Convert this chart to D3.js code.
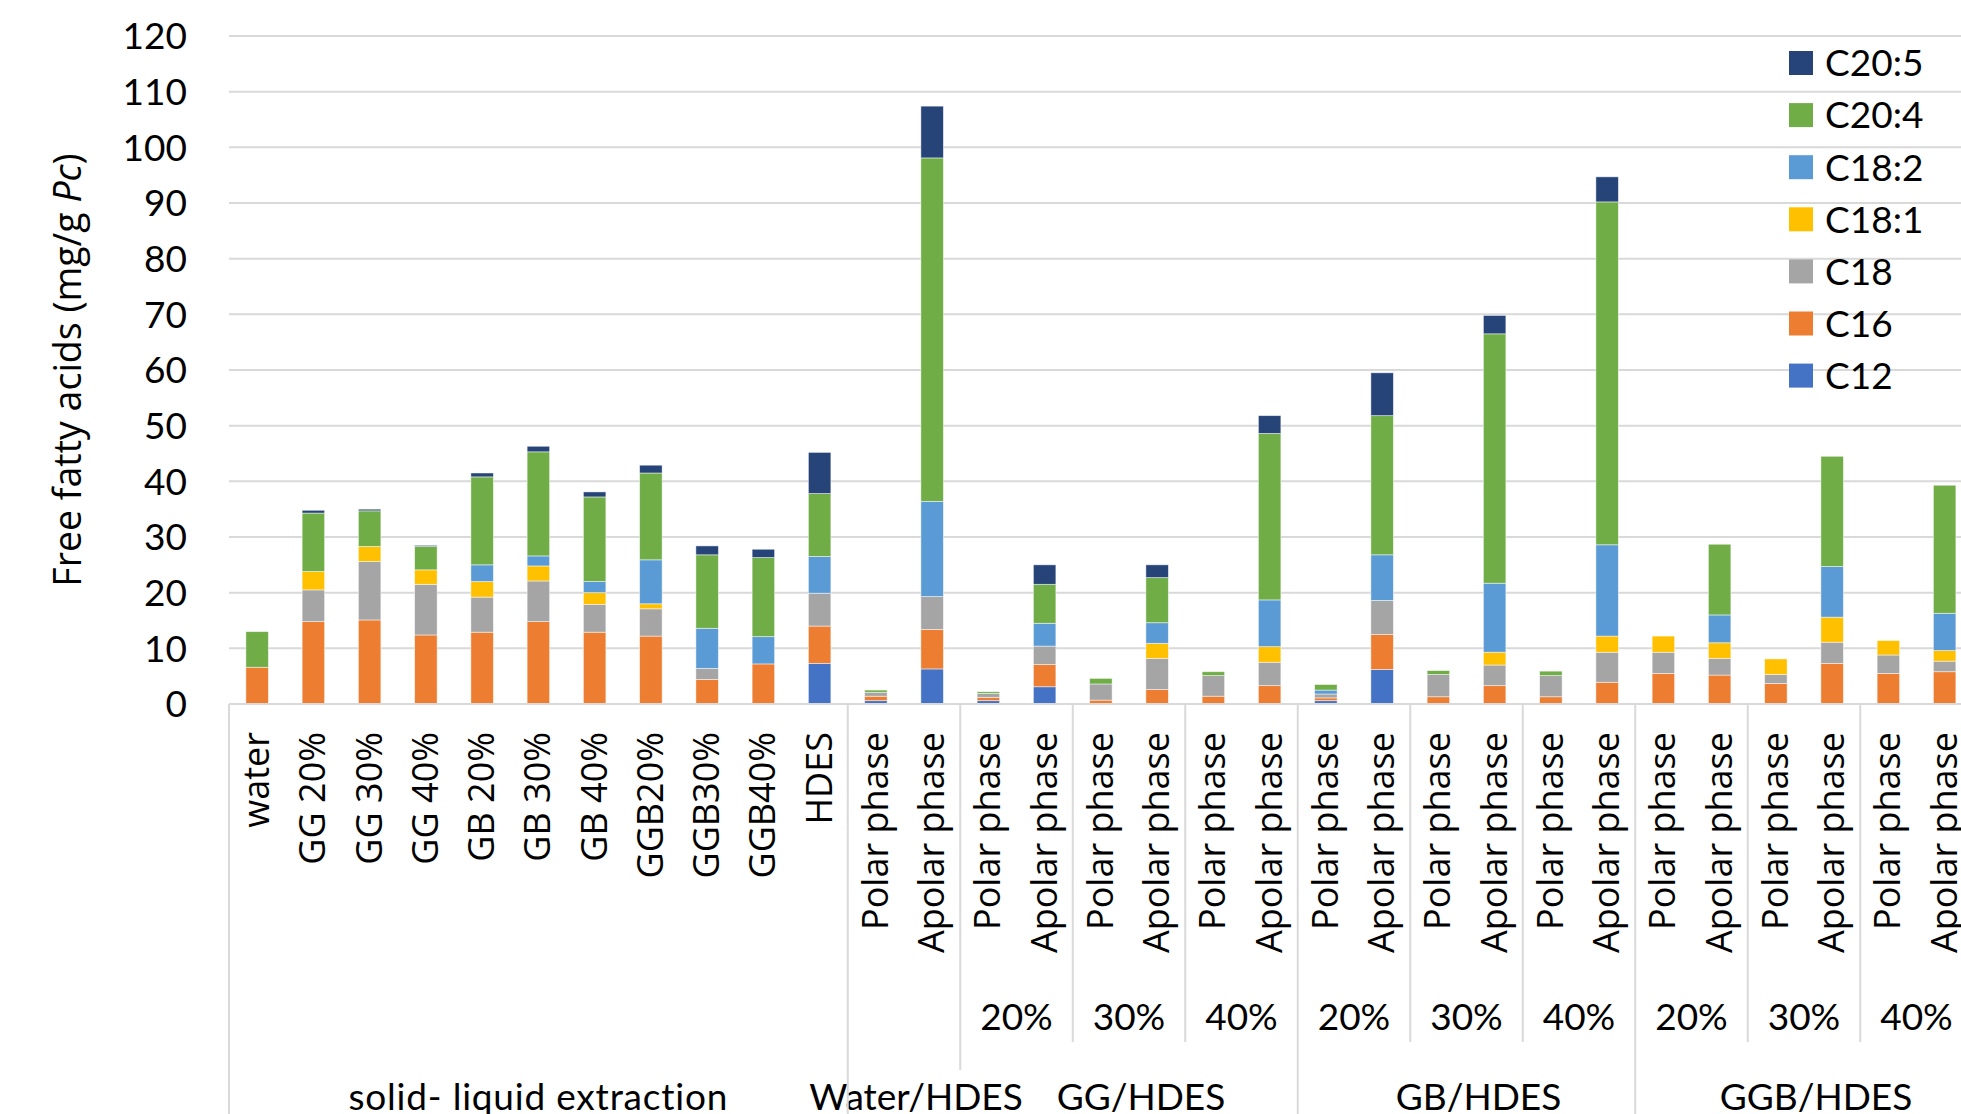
<!DOCTYPE html>
<html>
<head>
<meta charset="utf-8">
<script src="https://cdn.jsdelivr.net/npm/d3@7/dist/d3.min.js"></script>
<style>
  html, body { margin: 0; padding: 0; background: #fff; }
  svg { display: block; }
  .num-text { font-family: Lato, "Liberation Sans", sans-serif; font-size: 37px; fill: #000; }
  .cat-text { font-family: "Open Sans", "Noto Sans", "DejaVu Sans", sans-serif; font-size: 36px; fill: #000; }
  .axis-title { font-family: "Open Sans", "Noto Sans", "DejaVu Sans", sans-serif; font-size: 37.5px; fill: #000; }
</style>
</head>
<body>
<svg id="chart" width="1961" height="1114"></svg>
<script>
// Level 1 categories (bottom axis, rotated)
var categories = [
  "water", "GG 20%", "GG 30%", "GG 40%", "GB 20%", "GB 30%", "GB 40%",
  "GGB20%", "GGB30%", "GGB40%", "HDES",
  "Polar phase", "Apolar phase",
  "Polar phase", "Apolar phase", "Polar phase", "Apolar phase", "Polar phase", "Apolar phase",
  "Polar phase", "Apolar phase", "Polar phase", "Apolar phase", "Polar phase", "Apolar phase",
  "Polar phase", "Apolar phase", "Polar phase", "Apolar phase", "Polar phase", "Apolar phase"
];

// Level 2 (percent) labels, each covering two categories from index 13 on
var subLabels = ["20%", "30%", "40%", "20%", "30%", "40%", "20%", "30%", "40%"];
var subStart = 13;

// Level 3 groups and how many categories each holds
var groupLabels = ["solid- liquid extraction", "Water/HDES", "GG/HDES", "GB/HDES", "GGB/HDES"];
var groupSizes = [11, 2, 6, 6, 6];

// Series, stacked bottom to top (mg/g Pc)
var seriesNames = ["C12", "C16", "C18", "C18:1", "C18:2", "C20:4", "C20:5"];
var seriesColors = ["#4472C4", "#ED7D31", "#A5A5A5", "#FFC000", "#5B9BD5", "#70AD47", "#264478"];

var c12   = [0, 0, 0, 0, 0, 0, 0, 0, 0, 0, 7.3, 0.6, 6.3, 0.6, 3.1, 0, 0, 0, 0, 0.6, 6.2, 0, 0, 0, 0, 0, 0, 0, 0, 0, 0];
var c16   = [6.6, 14.8, 15.1, 12.4, 12.9, 14.8, 12.9, 12.2, 4.4, 7.2, 6.7, 0.8, 7.1, 0.6, 4.0, 0.7, 2.6, 1.4, 3.3, 0.5, 6.3, 1.3, 3.3, 1.3, 3.9, 5.5, 5.2, 3.7, 7.3, 5.5, 5.8];
var c18   = [0, 5.7, 10.5, 9.1, 6.3, 7.3, 5.0, 4.9, 2.0, 0, 5.9, 0.7, 5.9, 0.7, 3.3, 2.9, 5.6, 3.7, 4.2, 0.7, 6.1, 4.0, 3.7, 3.8, 5.4, 3.8, 3.0, 1.6, 3.8, 3.3, 1.9];
var c18_1 = [0, 3.3, 2.7, 2.6, 2.8, 2.7, 2.1, 0.9, 0, 0, 0, 0, 0, 0, 0, 0, 2.7, 0, 2.8, 0, 0, 0, 2.3, 0, 2.9, 2.9, 2.8, 2.8, 4.5, 2.6, 1.9];
var c18_2 = [0, 0, 0, 0, 3.0, 1.8, 2.0, 7.9, 7.2, 4.9, 6.6, 0, 17.1, 0, 4.1, 0, 3.7, 0, 8.4, 0.7, 8.2, 0, 12.4, 0, 16.4, 0, 5.0, 0, 9.1, 0, 6.7];
var c20_4 = [6.4, 10.5, 6.4, 4.2, 15.8, 18.7, 15.2, 15.6, 13.2, 14.2, 11.3, 0.4, 61.7, 0.3, 7.0, 1.0, 8.1, 0.7, 29.9, 1.0, 25.0, 0.7, 44.8, 0.8, 61.6, 0, 12.7, 0, 19.8, 0, 23.0];
var c20_5 = [0, 0.5, 0.3, 0.2, 0.7, 1.0, 0.9, 1.4, 1.6, 1.5, 7.4, 0, 9.3, 0, 3.5, 0, 2.3, 0, 3.2, 0, 7.7, 0, 3.3, 0, 4.5, 0, 0, 0, 0, 0, 0];

var yTicks = [0, 10, 20, 30, 40, 50, 60, 70, 80, 90, 100, 110, 120];

(function () {
  var width = 1961, height = 1114;
  var left = 229, top = 36, base = 704;
  var gridColor = "#d9d9d9";

  var svg = d3.select("#chart");

  // Build row objects for d3.stack
  var seriesValues = [c12, c16, c18, c18_1, c18_2, c20_4, c20_5];
  var rows = categories.map(function (c, i) {
    var r = { idx: i };
    seriesNames.forEach(function (s, k) { r[s] = seriesValues[k][i]; });
    return r;
  });
  var stacked = d3.stack().keys(seriesNames)(rows);

  // The plot runs past the right edge of the picture (cropped like the source)
  var step = 56.25;
  var x = d3.scaleBand()
    .domain(d3.range(categories.length))
    .range([left, left + step * categories.length])
    .paddingInner(0.6)
    .paddingOuter(0.3);

  var y = d3.scaleLinear().domain([0, 120]).range([base, top]);

  // Gridlines
  svg.append("g")
    .selectAll("line")
    .data(yTicks.filter(function (t) { return t > 0; }))
    .join("line")
    .attr("x1", left).attr("x2", width)
    .attr("y1", function (d) { return y(d); })
    .attr("y2", function (d) { return y(d); })
    .attr("stroke", gridColor)
    .attr("stroke-width", 2);

  // Y tick labels
  svg.append("g")
    .selectAll("text")
    .data(yTicks)
    .join("text")
    .attr("class", "num-text")
    .attr("x", 187)
    .attr("y", function (d) { return y(d); })
    .attr("dy", "0.36em")
    .attr("text-anchor", "end")
    .text(function (d) { return d; });

  // Y axis title
  var title = svg.append("text")
    .attr("class", "axis-title")
    .attr("transform", "translate(81," + 370 + ") rotate(-90)")
    .attr("text-anchor", "middle");
  title.append("tspan").text("Free fatty acids (mg/g ");
  title.append("tspan").attr("font-style", "italic").text("Pc");
  title.append("tspan").text(")");

  // Stacked bars
  svg.append("g")
    .selectAll("g")
    .data(stacked)
    .join("g")
    .attr("fill", function (d, k) { return seriesColors[k]; })
    .selectAll("rect")
    .data(function (d) { return d.filter(function (p) { return p[1] - p[0] > 0; }); })
    .join("rect")
    .attr("x", function (p) { return x(p.data.idx); })
    .attr("width", x.bandwidth())
    .attr("y", function (p) { return y(p[1]); })
    .attr("height", function (p) { return y(p[0]) - y(p[1]); })
    .attr("stroke", "#fff")
    .attr("stroke-width", 0.8)
    .attr("stroke-opacity", 0.6);

  // Category axis line
  svg.append("line")
    .attr("x1", left).attr("x2", width)
    .attr("y1", base).attr("y2", base)
    .attr("stroke", gridColor).attr("stroke-width", 2);

  // Level 1 labels, rotated
  svg.append("g")
    .selectAll("text")
    .data(categories)
    .join("text")
    .attr("class", "cat-text")
    .attr("text-anchor", "end")
    .attr("dy", "0.33em")
    .attr("transform", function (d, i) {
      return "translate(" + (x(i) + x.bandwidth() / 2) + ",732) rotate(-90)";
    })
    .text(function (d) { return d; });

  // Level 2 labels and their separators
  var sub = svg.append("g");
  subLabels.forEach(function (lab, j) {
    var i0 = subStart + j * 2;
    var x0 = x(i0) - x.step() * x.paddingOuter();
    var x1 = x0 + x.step() * 2;
    sub.append("text")
      .attr("class", "num-text")
      .attr("x", (x0 + x1) / 2)
      .attr("y", 1030)
      .attr("text-anchor", "middle")
      .text(lab);
    if (j % 3 !== 0) {
      sub.append("line")
        .attr("x1", x0).attr("x2", x0)
        .attr("y1", base).attr("y2", 1042)
        .attr("stroke", gridColor).attr("stroke-width", 2);
    }
  });

  // Level 3 groups
  var grp = svg.append("g");
  var start = 0;
  grp.append("line")
    .attr("x1", left).attr("x2", left)
    .attr("y1", base).attr("y2", height)
    .attr("stroke", gridColor).attr("stroke-width", 2);
  groupLabels.forEach(function (lab, g) {
    var x0 = x(start) - x.step() * x.paddingOuter();
    var x1 = x0 + x.step() * groupSizes[g];
    grp.append("text")
      .attr("class", "num-text")
      .attr("x", (x0 + x1) / 2 + (g > 0 ? 12 : 0))
      .attr("y", 1110)
      .attr("text-anchor", "middle")
      .attr("letter-spacing", g === 0 ? "0.8px" : null)
      .text(lab);
    if (g > 0) {
      // the Water/HDES | GG/HDES divider stops short in the source
      grp.append("line")
        .attr("x1", x0).attr("x2", x0)
        .attr("y1", base).attr("y2", g === 2 ? 1070 : height)
        .attr("stroke", gridColor).attr("stroke-width", 2);
    }
    start += groupSizes[g];
  });

  // Legend, top series first
  var legend = svg.append("g")
    .selectAll("g")
    .data(seriesNames.slice().reverse())
    .join("g")
    .attr("transform", function (d, i) { return "translate(1789," + (63 + i * 52.1) + ")"; });
  legend.append("rect")
    .attr("x", 0).attr("y", -12)
    .attr("width", 24).attr("height", 24)
    .attr("fill", function (d) { return seriesColors[seriesNames.indexOf(d)]; });
  legend.append("text")
    .attr("class", "num-text")
    .attr("x", 36)
    .attr("dy", "0.36em")
    .text(function (d) { return d; });
})();
</script>
</body>
</html>
